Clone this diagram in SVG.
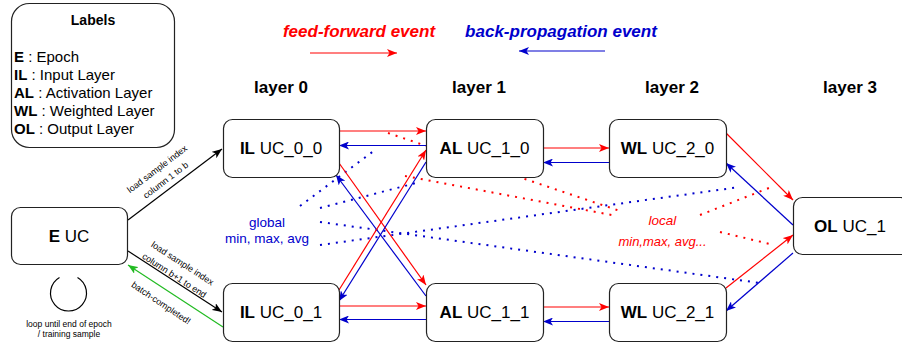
<svg xmlns="http://www.w3.org/2000/svg" width="902" height="345" viewBox="0 0 902 345">
<defs>
<style>
text{font-family:"Liberation Sans",Arial,sans-serif;}
.box{fill:#fff;stroke:#222;stroke-width:1.2;}
.nl{font-size:17px;text-anchor:middle;fill:#000;}
.b{font-weight:bold;}
.lay{font-size:17px;font-weight:bold;text-anchor:middle;}
.lbl{font-size:15px;}
.small{font-size:9px;text-anchor:middle;fill:#000;}
.red{stroke:#ff0000;stroke-width:1.2;fill:none;}
.blue{stroke:#0000cc;stroke-width:1.2;fill:none;}
.blk{stroke:#000;stroke-width:1.2;fill:none;}
.grn{stroke:#22bb22;stroke-width:1.2;fill:none;}
.rdot{stroke:#ff0000;stroke-width:2;stroke-dasharray:2 6;fill:none;}
.bdot{stroke:#0000cc;stroke-width:2;stroke-dasharray:2 6;fill:none;}
</style>
<marker id="ar" viewBox="0 0 10 8" refX="10" refY="4" markerWidth="10" markerHeight="8" markerUnits="userSpaceOnUse" orient="auto"><path d="M0,0 L10,4 L0,8 L2.5,4 Z" fill="#ff0000"/></marker>
<marker id="ab" viewBox="0 0 10 8" refX="10" refY="4" markerWidth="10" markerHeight="8" markerUnits="userSpaceOnUse" orient="auto"><path d="M0,0 L10,4 L0,8 L2.5,4 Z" fill="#0000cc"/></marker>
<marker id="ak" viewBox="0 0 10 8" refX="10" refY="4" markerWidth="10" markerHeight="8" markerUnits="userSpaceOnUse" orient="auto"><path d="M0,0 L10,4 L0,8 L2.5,4 Z" fill="#000"/></marker>
<marker id="ag" viewBox="0 0 10 8" refX="10" refY="4" markerWidth="10" markerHeight="8" markerUnits="userSpaceOnUse" orient="auto"><path d="M0,0 L10,4 L0,8 L2.5,4 Z" fill="#22bb22"/></marker>
</defs>
<rect width="902" height="345" fill="#fff"/>

<g id="legend-labels">
<rect class="box" x="11.5" y="3.5" width="163" height="144" rx="18"/>
<text x="93" y="25" font-size="14" font-weight="bold" text-anchor="middle">Labels</text>
<text class="lbl" x="14" y="62"><tspan class="b">E</tspan> : Epoch</text>
<text class="lbl" x="14" y="80"><tspan class="b">IL</tspan> : Input Layer</text>
<text class="lbl" x="14" y="98"><tspan class="b">AL</tspan> : Activation Layer</text>
<text class="lbl" x="14" y="116"><tspan class="b">WL</tspan> : Weighted Layer</text>
<text class="lbl" x="14" y="134"><tspan class="b">OL</tspan> : Output Layer</text>
</g>

<g id="legend-events">
<text x="359" y="37" font-size="17" font-weight="bold" font-style="italic" fill="#ff0000" text-anchor="middle">feed-forward event</text>
<text x="561" y="37" font-size="17" font-weight="bold" font-style="italic" fill="#0000cc" text-anchor="middle">back-propagation event</text>
<line class="red" x1="310" y1="53" x2="397" y2="53" marker-end="url(#ar)"/>
<line class="blue" x1="605" y1="51" x2="519" y2="51" marker-end="url(#ab)"/>
</g>

<g id="layer-titles">
<text class="lay" x="281" y="93">layer 0</text>
<text class="lay" x="479" y="93">layer 1</text>
<text class="lay" x="672" y="93">layer 2</text>
<text class="lay" x="850" y="93">layer 3</text>
</g>

<g id="connectors">
<!-- dotted annotations -->
<line class="bdot" x1="300" y1="206" x2="375" y2="150"/>
<line class="bdot" x1="320" y1="208" x2="420" y2="182"/>
<line class="bdot" x1="320" y1="222" x2="760" y2="283"/>
<line class="bdot" x1="320" y1="245" x2="740" y2="187"/>
<line class="rdot" x1="388" y1="133" x2="623" y2="212"/>
<line class="rdot" x1="405" y1="176" x2="617" y2="216"/>
<line class="rdot" x1="700" y1="215" x2="774" y2="186"/>
<line class="rdot" x1="720" y1="232" x2="774" y2="245"/>

<!-- E to IL -->
<line class="blk" x1="128" y1="220" x2="222" y2="149" marker-end="url(#ak)"/>
<line class="blk" x1="128" y1="251" x2="222" y2="312" marker-end="url(#ak)"/>
<line class="grn" x1="223" y1="327" x2="128" y2="265" marker-end="url(#ag)"/>
<text class="small" transform="translate(157.2,169) rotate(-37.07)" y="3">load sample index</text>
<text class="small" transform="translate(165.7,180.2) rotate(-37.07)" y="3">column 1 to b</text>
<text class="small" transform="translate(182.5,263.4) rotate(33)" y="3">load sample index</text>
<text class="small" transform="translate(174.3,275.5) rotate(33)" y="3">column b+1 to end</text>
<text class="small" transform="translate(161,303) rotate(33.8)" y="3">batch-completed!</text>

<!-- IL <-> AL -->
<line class="red" x1="339" y1="131" x2="426" y2="131" marker-end="url(#ar)"/>
<line class="blue" x1="426" y1="145.5" x2="339" y2="145.5" marker-end="url(#ab)"/>
<line class="red" x1="339" y1="306" x2="426" y2="306" marker-end="url(#ar)"/>
<line class="blue" x1="426" y1="319.5" x2="339" y2="319.5" marker-end="url(#ab)"/>
<line class="red" x1="339" y1="163" x2="426" y2="285" marker-end="url(#ar)"/>
<line class="blue" x1="426" y1="296" x2="336" y2="175" marker-end="url(#ab)"/>
<line class="red" x1="339" y1="290" x2="426" y2="150" marker-end="url(#ar)"/>
<line class="blue" x1="426" y1="162" x2="339" y2="301" marker-end="url(#ab)"/>

<!-- AL <-> WL -->
<line class="red" x1="543" y1="148" x2="609" y2="148" marker-end="url(#ar)"/>
<line class="blue" x1="609" y1="162.5" x2="543" y2="162.5" marker-end="url(#ab)"/>
<line class="red" x1="543" y1="307" x2="609" y2="307" marker-end="url(#ar)"/>
<line class="blue" x1="609" y1="321.5" x2="543" y2="321.5" marker-end="url(#ab)"/>

<!-- WL <-> OL -->
<line class="red" x1="726" y1="133" x2="793" y2="200" marker-end="url(#ar)"/>
<line class="blue" x1="793" y1="225" x2="726" y2="163" marker-end="url(#ab)"/>
<line class="red" x1="726" y1="288" x2="793" y2="235" marker-end="url(#ar)"/>
<line class="blue" x1="793" y1="253" x2="726" y2="311" marker-end="url(#ab)"/>
</g>

<g id="note-global">
<text x="267" y="227" font-size="13.5" fill="#0000cc" text-anchor="middle">global</text>
<text x="267" y="243" font-size="13.5" fill="#0000cc" text-anchor="middle">min, max, avg</text>
</g>
<g id="note-local">
<text x="662.5" y="225" font-size="13.5" font-style="italic" fill="#ff0000" text-anchor="middle">local</text>
<text x="662.5" y="246" font-size="13" font-style="italic" fill="#ff0000" text-anchor="middle">min,max, avg...</text>
</g>

<g id="loop">
<path d="M59.5,277.4 A18,18 0 1 0 77.5,277.4" fill="none" stroke="#000" stroke-width="1.2"/>
<text x="69" y="327" font-size="8.5" text-anchor="middle">loop until end of epoch</text>
<text x="69" y="337" font-size="8.5" text-anchor="middle">/ training sample</text>
</g>

<g id="E_UC">
<rect class="box" x="11.5" y="207.5" width="116" height="57" rx="9"/>
<text class="nl" x="69" y="242"><tspan class="b">E</tspan> UC</text>
</g>
<g id="IL_UC_0_0">
<rect class="box" x="223.5" y="119.5" width="116" height="58" rx="9"/>
<text class="nl" x="281" y="154"><tspan class="b">IL</tspan> UC_0_0</text>
</g>
<g id="IL_UC_0_1">
<rect class="box" x="223.5" y="283.5" width="116" height="58" rx="9"/>
<text class="nl" x="281" y="318"><tspan class="b">IL</tspan> UC_0_1</text>
</g>
<g id="AL_UC_1_0">
<rect class="box" x="426.5" y="119.5" width="117" height="58" rx="9"/>
<text class="nl" x="484.5" y="154"><tspan class="b">AL</tspan> UC_1_0</text>
</g>
<g id="AL_UC_1_1">
<rect class="box" x="426.5" y="283.5" width="117" height="58" rx="9"/>
<text class="nl" x="484.5" y="318"><tspan class="b">AL</tspan> UC_1_1</text>
</g>
<g id="WL_UC_2_0">
<rect class="box" x="609.5" y="119.5" width="117" height="58" rx="9"/>
<text class="nl" x="667.5" y="154"><tspan class="b">WL</tspan> UC_2_0</text>
</g>
<g id="WL_UC_2_1">
<rect class="box" x="609.5" y="283.5" width="117" height="58" rx="9"/>
<text class="nl" x="667.5" y="318"><tspan class="b">WL</tspan> UC_2_1</text>
</g>
<g id="OL_UC_1">
<rect class="box" x="793.5" y="197.5" width="116" height="57" rx="9"/>
<text class="nl" x="850" y="232"><tspan class="b">OL</tspan> UC_1</text>
</g>
</svg>
